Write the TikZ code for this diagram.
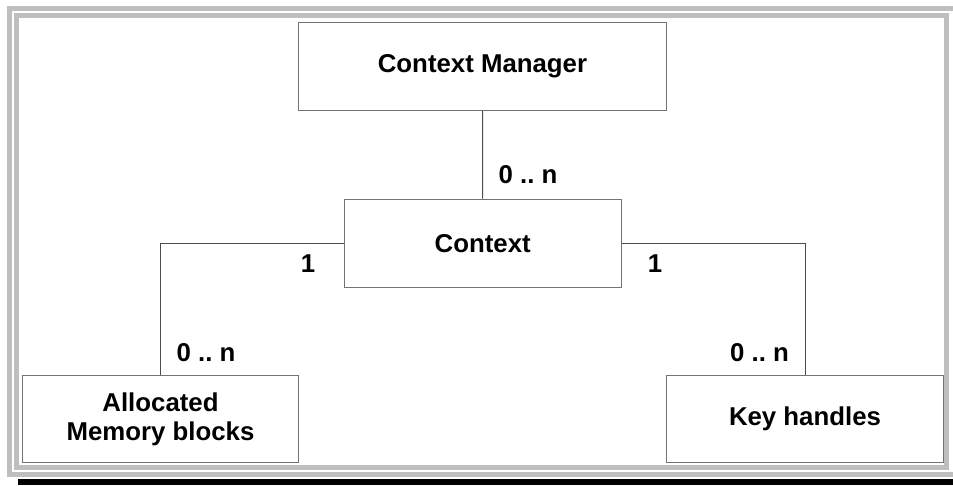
\documentclass[tikz,border=0pt]{standalone}
\usepackage{fontspec}
\setmainfont{Liberation Sans}
\frenchspacing
\begin{document}
\begin{tikzpicture}[x=1pt,y=-1pt,
  classbox/.style={draw=black!55, line width=1pt, fill=white, inner sep=0pt,
    align=center, font=\bfseries\fontsize{25.8}{29}\selectfont},
  link/.style={draw=black!70, line width=1pt},
  mult/.style={inner sep=0pt, font=\bfseries\fontsize{25.8}{29}\selectfont},
  frameband/.style={draw=black!25, line width=5pt}]
  % page extent
  \useasboundingbox (0,0) rectangle (953,485);
  \fill[white] (0,0) rectangle (953,485);

  % double grey frame and dark base strip
  \draw[frameband] (9.2,8.5) rectangle (955,474.2);
  \draw[frameband] (16.8,15.8) rectangle (946.8,467.5);
  \fill[black] (18.3,479) rectangle (953,485);

  % classes
  \node[classbox, minimum width=368.4pt, minimum height=87.7pt] (mgr) at (482.5,66.2) {Context Manager};
  \node[classbox, minimum width=276.7pt, minimum height=88.3pt] (ctx) at (482.7,243.2) {Context};
  \node[classbox, minimum width=275.6pt, minimum height=87pt] (alloc) at (160.5,419.2) {Allocated\\Memory blocks};
  \node[classbox, minimum width=276.6pt, minimum height=86.3pt] (keys) at (805,418.9) {Key handles};

  % associations
  \draw[link] (mgr.south) -- (ctx.north);
  \draw[link] (ctx.west) -| (alloc.north);
  \draw[link] (ctx.east) -| (keys.north);

  % multiplicities
  \node[mult] (m1) at (528,175) {0 .. n};
  \node[mult] (m2) at (308,264) {1};
  \node[mult] (m3) at (655,264) {1};
  \node[mult] (m4) at (206,353) {0 .. n};
  \node[mult] (m5) at (759.5,353) {0 .. n};
\end{tikzpicture}
\end{document}
